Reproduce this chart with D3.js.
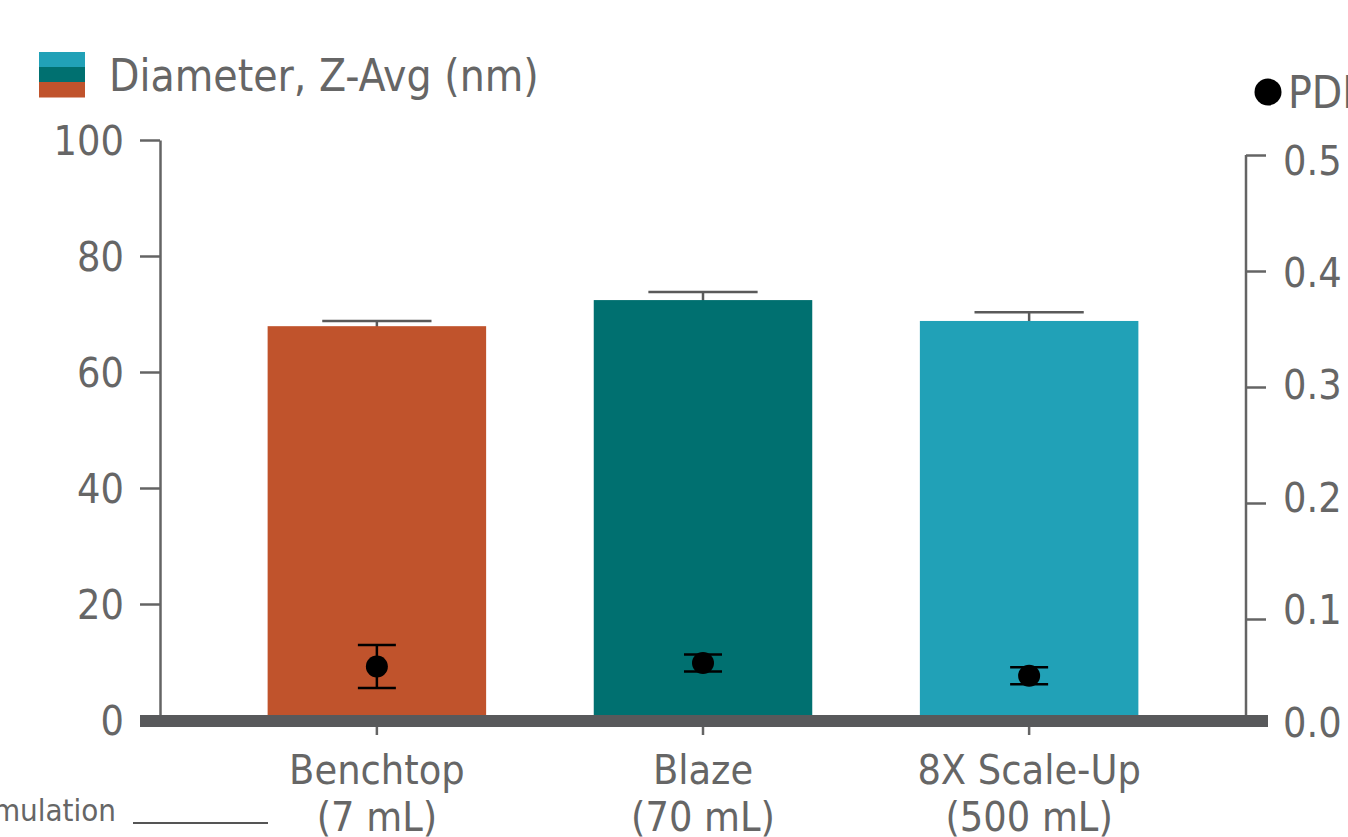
<!DOCTYPE html>
<html>
<head>
<meta charset="utf-8">
<script src="https://cdn.jsdelivr.net/npm/d3@7"></script>
<style>
  body { margin: 0; background: #fff; overflow: hidden; }
  svg { display: block; }
  text { font-family: "DejaVu Sans Condensed", "DejaVu Sans", sans-serif; font-stretch: condensed; fill: #666; }
</style>
</head>
<body>
<svg></svg>
<script>
// data
const categories = ["Benchtop|(7 mL)", "Blaze|(70 mL)", "8X Scale-Up|(500 mL)"];
const diameter = [67.9, 72.4, 68.8];
const diameterErr = [0.9, 1.4, 1.5];
const pdi = [0.059, 0.062, 0.051];
const pdiErr = [0.0185, 0.0073, 0.0073];
const colors = ["#c0532c", "#007070", "#21a1b7"];
const leftTicks = [0, 20, 40, 60, 80, 100];
const rightTicks = [0, 0.1, 0.2, 0.3, 0.4, 0.5];

const svgWidth = 1348;
const svgHeight = 837;

const svg = d3.select("svg")
    .attr("width", svgWidth)
    .attr("height", svgHeight);

const axisColor = "#646464";

const x = d3.scaleBand()
    .domain(categories)
    .range([160, 1246])
    .padding(0.33);

const y = d3.scaleLinear().domain([0, 100]).range([720, 140]);
const y2 = d3.scaleLinear().domain([0, 0.5]).range([735, 155]);
// the right-hand labels sit a little off their ticks in the original
const y2Label = d3.scaleLinear().domain([0, 0.5]).range([722, 160]);

// left axis
const gl = svg.append("g")
    .attr("transform", "translate(160,0)")
    .call(d3.axisLeft(y).tickValues(leftTicks).tickSize(20).tickPadding(16).tickSizeOuter(0));
gl.select(".domain").attr("stroke", axisColor).attr("stroke-width", 2.5);
gl.selectAll(".tick line").attr("stroke", axisColor).attr("stroke-width", 2.5);
gl.selectAll(".tick text").style("font-size", "41px").attr("fill", "#666").attr("dy", "0.36em");

// right axis
const gr = svg.append("g")
    .attr("transform", "translate(1246,0)")
    .call(d3.axisRight(y2).tickValues(rightTicks).tickFormat(d3.format(".1f")).tickSize(20).tickPadding(17).tickSizeOuter(0));
gr.select(".domain").remove();
gr.append("line")
    .attr("y1", y2(0.5)).attr("y2", y(0))
    .attr("stroke", axisColor).attr("stroke-width", 2.5);
gr.selectAll(".tick line").attr("stroke", axisColor).attr("stroke-width", 2.5)
    .filter(d => d === 0).remove();
gr.selectAll(".tick text").style("font-size", "41px").attr("fill", "#666")
    .attr("dy", d => (y2Label(d) - y2(d) + 14) + "px");

// error bars for diameter (drawn under the bars, so only the top shows)
const data = categories.map((c, i) => ({c, v: diameter[i], e: diameterErr[i], p: pdi[i], pe: pdiErr[i], col: colors[i]}));
const cx = d => x(d.c) + x.bandwidth() / 2;
const whisk = x.bandwidth() / 4;

const eb = svg.append("g").selectAll("g").data(data).enter().append("g")
    .attr("stroke", "#5a5a5a").attr("stroke-width", 2.5);
eb.append("line").attr("x1", cx).attr("x2", cx)
    .attr("y1", d => y(d.v + d.e)).attr("y2", d => y(d.v - d.e));
eb.append("line").attr("x1", d => cx(d) - whisk).attr("x2", d => cx(d) + whisk)
    .attr("y1", d => y(d.v + d.e)).attr("y2", d => y(d.v + d.e));

// bars
svg.append("g").selectAll("rect").data(data).enter().append("rect")
    .attr("x", d => x(d.c))
    .attr("y", d => y(d.v))
    .attr("width", x.bandwidth())
    .attr("height", d => y(0) - y(d.v))
    .attr("fill", d => d.col);

// baseline / x axis
svg.append("rect")
    .attr("x", 140).attr("y", 715)
    .attr("width", 1268 - 140).attr("height", 12)
    .attr("fill", "#58595b");

const gx = svg.append("g")
    .attr("transform", "translate(0,727)")
    .call(d3.axisBottom(x).tickSize(8).tickSizeOuter(0).tickFormat(""));
gx.select(".domain").remove();
gx.selectAll(".tick line").attr("stroke", axisColor).attr("stroke-width", 2.5);
gx.selectAll(".tick").append("text")
    .attr("text-anchor", "middle")
    .style("font-size", "41px")
    .attr("fill", "#666")
    .selectAll("tspan")
    .data(d => d.split("|"))
    .enter().append("tspan")
    .attr("x", 0)
    .attr("y", (d, i) => 57 + i * 47)
    .text(d => d);

// PDI points with error bars
const pg = svg.append("g").selectAll("g").data(data).enter().append("g")
    .attr("stroke", "#000").attr("stroke-width", 2.5);
pg.append("line").attr("x1", cx).attr("x2", cx)
    .attr("y1", d => y2(d.p + d.pe)).attr("y2", d => y2(d.p - d.pe));
pg.append("line").attr("x1", d => cx(d) - 19).attr("x2", d => cx(d) + 19)
    .attr("y1", d => y2(d.p + d.pe)).attr("y2", d => y2(d.p + d.pe));
pg.append("line").attr("x1", d => cx(d) - 19).attr("x2", d => cx(d) + 19)
    .attr("y1", d => y2(d.p - d.pe)).attr("y2", d => y2(d.p - d.pe));
pg.append("circle").attr("cx", cx).attr("cy", d => y2(d.p)).attr("r", 11)
    .attr("fill", "#000").attr("stroke", "none");

// legend: diameter
const stack = [colors[2], colors[1], colors[0]];
svg.append("g").selectAll("rect").data(stack).enter().append("rect")
    .attr("x", 39).attr("y", (d, i) => 52 + i * 15)
    .attr("width", 46).attr("height", 15.5)
    .attr("fill", d => d);
svg.append("text")
    .attr("x", 109).attr("y", 91)
    .style("font-size", "44px")
    .text("Diameter, Z-Avg (nm)");

// legend: PDI
svg.append("circle").attr("cx", 1268).attr("cy", 92).attr("r", 13.5).attr("fill", "#000");
svg.append("text")
    .attr("x", 1288).attr("y", 108)
    .style("font-size", "44px")
    .text("PDI");

// clipped label at bottom-left
svg.append("text")
    .attr("x", 116).attr("y", 821)
    .attr("text-anchor", "end")
    .style("font-size", "31px")
    .text("Formulation");
svg.append("line")
    .attr("x1", 133).attr("x2", 268)
    .attr("y1", 823).attr("y2", 823)
    .attr("stroke", "#555").attr("stroke-width", 2);
</script>
</body>
</html>
